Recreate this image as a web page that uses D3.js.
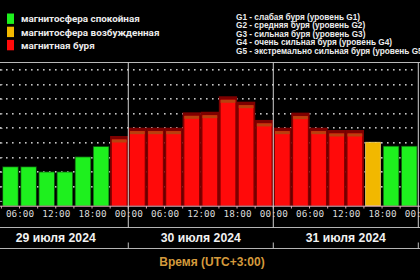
<!DOCTYPE html>
<html>
<head>
<meta charset="utf-8">
<script src="https://cdn.jsdelivr.net/npm/d3@7"></script>
<style>
  html, body { margin: 0; padding: 0; background: #000; overflow: hidden; }
  svg { display: block; }
</style>
</head>
<body>
<script>
// ---- data ----
const binStart = "2024-07-29T03:00:00Z",
      binEnd = "2024-08-01T00:00:00Z";
// Kp index per 3-hour bin
const kpValues = [2.34, 2.34, 1.99, 1.99, 3.02, 3.73, 4.48,
                  5.05, 5.05, 5.05, 6.1, 6.14, 7.2, 6.83, 5.58,
                  5.05, 6.08, 5.05, 4.89, 4.89, 4.05, 3.75, 3.75];
// 0 = quiet, 1 = active, 2 = storm
const kpLevels = [0, 0, 0, 0, 0, 0, 2,
                  2, 2, 2, 2, 2, 2, 2, 2,
                  2, 2, 2, 2, 2, 1, 0, 0];
const levelLabels = ["магнитосфера спокойная", "магнитосфера возбужденная", "магнитная буря"];
const levelColors = ["#1ef01e", "#f2b800", "#ff0a0a"];
const stormLabels = [
  "G1 - слабая буря (уровень G1)",
  "G2 - средняя буря (уровень G2)",
  "G3 - сильная буря (уровень G3)",
  "G4 - очень сильная буря (уровень G4)",
  "G5 - экстремально сильная буря (уровень G5)"
];
const dayDates = ["2024-07-29", "2024-07-30", "2024-07-31", "2024-08-01"];
const dayLabels = ["29 июля 2024", "30 июля 2024", "31 июля 2024"];
const axisTitle = "Время (UTC+3:00)";

// ---- layout ----
const W = 420, H = 280;
const plotTop = 62.5, base = 205.7, axisLine = 227.5, dateLine = 248.5;

const svg = d3.select("body").append("svg")
    .attr("width", W).attr("height", H)
    .style("background", "#000");

const x = d3.scaleUtc()
    .domain([new Date(binStart), new Date(binEnd)])
    .range([1.4, 418.3]);
const y = d3.scaleLinear().domain([0, 9]).range([201.4, 70]);

const bins = d3.utcHour.every(3).range(new Date(binStart), new Date(binEnd));
const data = bins.map((t, i) => ({ t: t, v: kpValues[i], lvl: kpLevels[i] }));

// frame line on top
svg.append("line")
    .attr("x1", 0).attr("x2", W).attr("y1", plotTop).attr("y2", plotTop)
    .attr("stroke", "#b8b8b8").attr("stroke-width", 1.2);

// dotted grid (every 1.5 h, every Kp level)
const dotTimes = d3.utcMinute.every(90).range(new Date(binStart), new Date(binEnd));
const rows = d3.range(1, 10);
const grid = svg.append("g");
rows.forEach(r => {
  grid.selectAll(null).data(dotTimes).enter().append("rect")
      .attr("x", d => Math.round(x(d)) - 1).attr("y", Math.round(y(r)) - 1)
      .attr("width", 1.6).attr("height", 1.6)
      .attr("fill", "#c4c4c4");
});
// left ticks
svg.append("g").selectAll("line").data(d3.range(0, 10)).enter().append("line")
    .attr("x1", 0).attr("x2", 2.5).attr("y1", d => y(d)).attr("y2", d => y(d))
    .attr("stroke", "#a8a8a8");

// bars
const barW = 14.7;
const bars = svg.append("g");
data.forEach(d => {
  const slot = x(d3.utcHour.offset(d.t, 3)) - x(d.t);
  const bx = x(d.t) + (slot - barW) / 2;
  const by = y(d.v);
  if (d.lvl === 2) {
    bars.append("rect").attr("x", bx - 1.8).attr("y", by)
        .attr("width", barW + 3.6).attr("height", base - by)
        .attr("fill", "#7e0000");
    bars.append("rect").attr("x", bx).attr("y", by + 3.5)
        .attr("width", barW).attr("height", base - by - 3.5)
        .attr("fill", levelColors[2]);
    bars.append("rect").attr("x", bx).attr("y", by + 3.5)
        .attr("width", barW).attr("height", 3)
        .attr("fill", "#b8400e");
  } else if (d.lvl === 1) {
    bars.append("rect").attr("x", bx).attr("y", by)
        .attr("width", barW).attr("height", base - by)
        .attr("fill", levelColors[1])
        .attr("stroke", "#f8d870").attr("stroke-width", 0.8);
  } else {
    bars.append("rect").attr("x", bx - 0.8).attr("y", by - 0.8)
        .attr("width", barW + 1.6).attr("height", base - by + 0.8)
        .attr("fill", "#0f5a0f");
    bars.append("rect").attr("x", bx).attr("y", by)
        .attr("width", barW).attr("height", base - by)
        .attr("fill", levelColors[0]);
  }
});

// baseline and 3h ticks
svg.append("line")
    .attr("x1", 0).attr("x2", W).attr("y1", 206.2).attr("y2", 206.2)
    .attr("stroke", "#e8b4c0").attr("stroke-width", 1);
svg.append("g").selectAll("line").data(bins).enter().append("line")
    .attr("x1", d => x(d)).attr("x2", d => x(d))
    .attr("y1", 206).attr("y2", 208.5)
    .attr("stroke", "#d8a8b4");

// time axis labels (last one is cut by the right edge, as in the source)
const xAxis = d3.axisBottom(x)
    .ticks(d3.utcHour.every(6))
    .tickFormat(d3.utcFormat("%H:%M"))
    .tickSize(0).tickPadding(0);
const ax = svg.append("g").attr("transform", "translate(0,210.5)").call(xAxis);
ax.select(".domain").remove();
ax.selectAll("text")
    .attr("dy", "0.71em")
    .attr("fill", "#dcdcdc")
    .style("font-family", "'DejaVu Sans Mono', monospace")
    .style("font-size", "9.3px");

// axis separation lines
[axisLine, dateLine].forEach(yy => {
  svg.append("line")
      .attr("x1", 0).attr("x2", W).attr("y1", yy).attr("y2", yy)
      .attr("stroke", "#b4b4b4").attr("stroke-width", 1.2);
});

// day dividers
const days = dayDates.map(s => new Date(s + "T00:00:00Z"));
svg.append("g").selectAll("line").data(days).enter().append("line")
    .attr("x1", d => x(d)).attr("x2", d => x(d))
    .attr("y1", plotTop).attr("y2", axisLine)
    .attr("stroke", "#d0d0d0").attr("stroke-width", 1);
svg.append("g").selectAll("line").data(days).enter().append("line")
    .attr("x1", d => x(d)).attr("x2", d => x(d))
    .attr("y1", 242.5).attr("y2", dateLine)
    .attr("stroke", "#c0c0c0").attr("stroke-width", 1);

// day labels
svg.append("g").selectAll("text").data(dayLabels).enter().append("text")
    .attr("x", (d, i) => (x(days[i]) + x(days[i + 1])) / 2)
    .attr("y", 241.6)
    .attr("text-anchor", "middle")
    .attr("fill", "#f2f2f2")
    .style("font-family", "'Liberation Sans', Arial, sans-serif")
    .style("font-weight", "bold")
    .style("font-size", "12.2px")
    .text(d => d);

// axis title
svg.append("text")
    .attr("x", 212).attr("y", 266)
    .attr("text-anchor", "middle")
    .attr("fill", "#d49a3c")
    .style("font-family", "'Liberation Sans', Arial, sans-serif")
    .style("font-weight", "bold")
    .style("font-size", "12px")
    .text(axisTitle);

// level legend
const leg = svg.append("g");
levelLabels.forEach((lab, i) => {
  const cy = 18.7 + i * 13.2;
  leg.append("rect").attr("x", 7).attr("y", cy - 5.2)
      .attr("width", 7).attr("height", 10.4)
      .attr("fill", levelColors[i]);
  leg.append("text").attr("x", 21).attr("y", cy + 3.6)
      .attr("fill", "#ececec")
      .style("font-family", "Roboto, 'Liberation Sans', sans-serif")
      .style("font-weight", "bold")
      .style("font-size", "9.9px")
      .text(lab);
});

// storm scale legend (G5 line runs past the right edge, as in the source)
svg.append("g").selectAll("text").data(stormLabels).enter().append("text")
    .attr("x", 236)
    .attr("y", (d, i) => 16.7 + i * 8.6 + 2.9)
    .attr("fill", "#ececec")
    .style("font-family", "'Liberation Sans', Arial, sans-serif")
    .style("font-weight", "bold")
    .style("font-size", "8.25px")
    .text(d => d);
</script>
</body>
</html>
